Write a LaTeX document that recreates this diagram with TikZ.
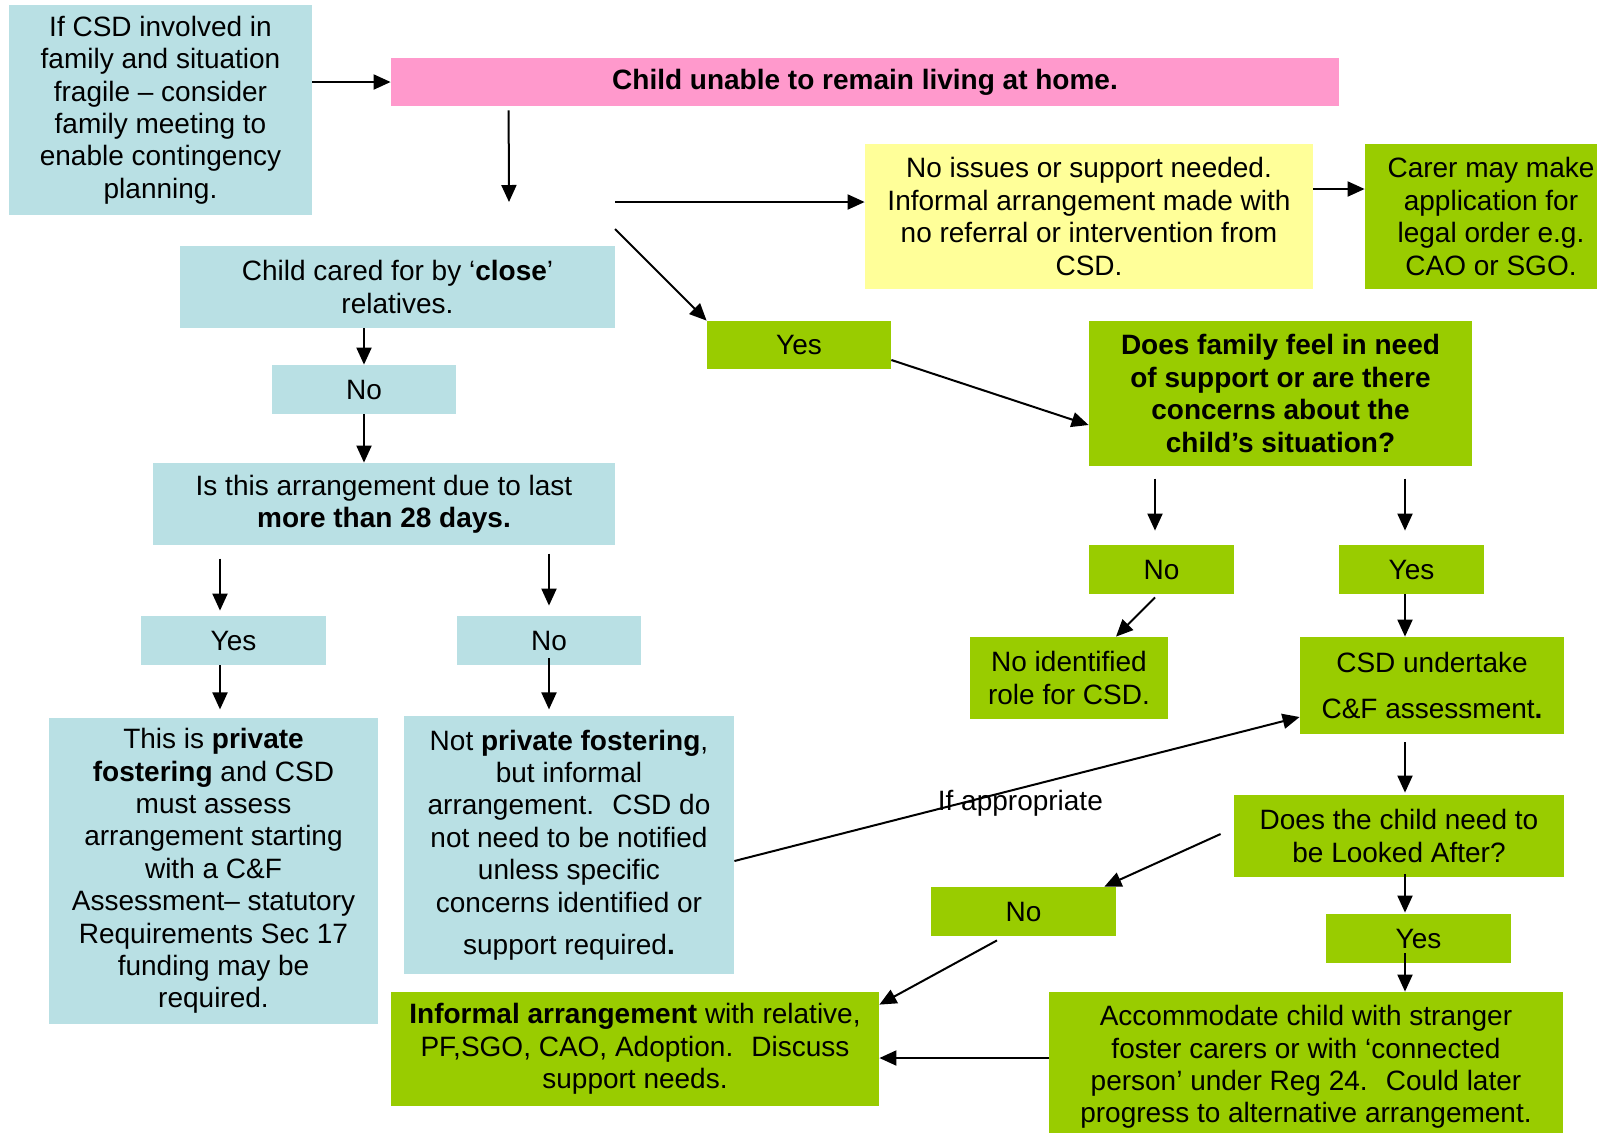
\documentclass[tikz,border=0pt]{standalone}
\usepackage{fontspec}
\setmainfont{Liberation Sans}
\usetikzlibrary{calc,shapes,arrows,arrows.meta}
\definecolor{csdblue}{HTML}{B9E0E4}
\definecolor{csdgreen}{HTML}{99CC00}
\definecolor{csdpink}{HTML}{FF99CC}
\definecolor{csdyellow}{HTML}{FFFF99}

\begin{document}
\begin{tikzpicture}[x=0.5pt,y=-0.5pt,
    box/.style={inner sep=0pt, align=center, font=\fontsize{14}{16.2}\selectfont},
    bluebox/.style={box, fill=csdblue},
    greenbox/.style={box, fill=csdgreen},
    arr/.style={-{Triangle[length=8.5pt,width=7.5pt]}, line width=1pt}]
        \useasboundingbox (0,0) rectangle (1597,1132);
        \clip (0,0) rectangle (1597,1132);
        % top row
        \node[bluebox, minimum width=151.5pt, minimum height=105pt] (family) at (160.5,110)
            {If CSD involved in\\family and situation\\fragile – consider\\family meeting to\\enable contingency\\planning.};
        \node[box, fill=csdpink, minimum width=474pt, minimum height=24pt] (home) at (865,82)
            {\textbf{Child unable to remain living at home.}};
        \node[box, fill=csdyellow, minimum width=224pt, minimum height=72.5pt] (noissue) at (1089,216.5)
            {No issues or support needed.\\Informal arrangement made with\\no referral or intervention from\\CSD.};
        \node[greenbox, minimum width=126pt, minimum height=72.5pt] (carer) at (1491,216.5)
            {Carer may make\\application for\\legal order e.g.\\CAO or SGO.};
        \coordinate (split) at (509,202);
        \coordinate (fork) at (615,202);
        \coordinate (fork2) at (615,229);
        % left branch
        \node[bluebox, minimum width=217.5pt, minimum height=41pt] (close) at (397.5,287)
            {Child cared for by ‘\textbf{close}’\\relatives.};
        \node[bluebox, minimum width=92pt, minimum height=24.5pt] (noclose) at (364,389.5) {No};
        \node[bluebox, minimum width=231pt, minimum height=41pt] (days) at (384,504)
            {Is this arrangement due to last\\\textbf{more than 28 days.}};
        \node[bluebox, minimum width=92.5pt, minimum height=24.5pt] (yesdays) at (233.5,640.5) {Yes};
        \node[bluebox, minimum width=92pt, minimum height=24.5pt] (nodays) at (549,640.5) {No};
        \node[bluebox, minimum width=164.5pt, minimum height=153pt] (pf) at (213.5,871)
            {This is \textbf{private}\\\textbf{fostering} and CSD\\must assess\\arrangement starting\\with a C\&F\\Assessment– statutory\\Requirements Sec 17\\funding may be\\required.};
        \node[bluebox, minimum width=165pt, minimum height=129pt] (notpf) at (569,845)
            {Not \textbf{private fostering},\\but informal\\arrangement.~ CSD do\\not need to be notified\\unless specific\\concerns identified or\\[5pt]support required\textbf{.}};
        % right branch
        \node[greenbox, minimum width=92pt, minimum height=24pt] (yesclose) at (799,345) {Yes};
        \node[greenbox, minimum width=191.5pt, minimum height=72.5pt] (support) at (1280.5,393.5)
            {\textbf{Does family feel in need}\\\textbf{of support or are there}\\\textbf{concerns about the}\\\textbf{child’s situation?}};
        \node[greenbox, minimum width=72.5pt, minimum height=24.5pt] (nosupport) at (1161.5,569.5) {No};
        \node[greenbox, minimum width=72.5pt, minimum height=24.5pt] (yessupport) at (1411.5,569.5) {Yes};
        \node[greenbox, minimum width=99pt, minimum height=41pt] (norole) at (1069,678)
            {No identified\\role for CSD.};
        \node[greenbox, minimum width=132pt, minimum height=48.5pt] (assess) at (1432,685.5)
            {CSD undertake\\[7pt]C\&F assessment\textbf{.}};
        \node[greenbox, minimum width=165pt, minimum height=41pt] (looked) at (1399,836)
            {Does the child need to\\be Looked After?};
        \node[greenbox, minimum width=92.5pt, minimum height=24.5pt] (nolooked) at (1023.5,911.5) {No};
        \node[greenbox, minimum width=92.5pt, minimum height=24.5pt] (yeslooked) at (1418.5,938.5) {Yes};
        \node[greenbox, minimum width=257pt, minimum height=75pt] (accom) at (1306,1067)
            {Accommodate child with stranger\\foster carers or with ‘connected\\person’ under Reg 24.~ Could later\\progress to alternative arrangement.};
        \node[greenbox, minimum width=244pt, minimum height=57pt] (informal) at (635,1049)
            {\textbf{Informal arrangement} with relative,\\PF,SGO, CAO, Adoption.~ Discuss\\support needs.};
        % connectors
        \draw[arr] (family.east |- home.west) -- (home.west);
        \draw[arr] ($(home.south west)+(118,4)$) -- (split);
        \draw[arr] (fork) -- (fork -| noissue.west);
        \draw[arr] (fork2) -- (yesclose.north west);
        \draw[arr] ([yshift=13.75pt]noissue.east) -- ([yshift=13.75pt]carer.west);
        \draw[arr] ([yshift=-7.5pt]yesclose.east) -- ([yshift=-15.75pt]support.west);
        \draw[arr] (close.south -| noclose.north) -- (noclose.north);
        \draw[arr] (noclose.south) -- (noclose.south |- days.north);
        \draw[arr] ([xshift=-6.75pt,yshift=28.5pt]yesdays.north) -- ++(0,52);
        \draw[arr] ([yshift=31pt]nodays.north) -- ++(0,52);
        \draw[arr] ([xshift=-6.75pt]yesdays.south) -- ++(0,44);
        \draw[arr] ([yshift=3.5pt]nodays.south) -- ++(0,51);
        \draw[arr] ([yshift=-8pt]notpf.east) -- node[box, pos=0.506, yshift=-7.5pt] (ifapp) {If appropriate}
            ([yshift=-15.75pt]assess.west);
        \draw[arr] ([xshift=-3.25pt,yshift=33pt]nosupport.north) -- ++(0,52);
        \draw[arr] ([xshift=-3.25pt,yshift=33pt]yessupport.north) -- ++(0,52);
        \draw[arr] ([xshift=-3.25pt,yshift=-1.5pt]nosupport.south) -- ([xshift=23.5pt]norole.north);
        \draw[arr] ([xshift=-3.25pt]yessupport.south) -- ([xshift=-3.25pt]yessupport.south |- assess.north);
        \draw[arr] ([xshift=-13.5pt,yshift=-4pt]assess.south) -- ([xshift=3pt,yshift=1pt]looked.north);
        \draw[arr] ([xshift=-6.5pt,yshift=1pt]looked.west) -- ([xshift=-6pt]nolooked.north east);
        \draw[arr] ([xshift=3pt,yshift=1.5pt]looked.south) -- ([xshift=-6.75pt,yshift=0.5pt]yeslooked.north);
        \draw[arr] ([xshift=-6.75pt,yshift=5pt]yeslooked.south) -- ([xshift=49.5pt]accom.north);
        \draw[arr] ([yshift=4.5pt]accom.west) -- ([yshift=4.5pt]accom.west -| informal.east);
        \draw[arr] ([xshift=-13.25pt,yshift=-2pt]nolooked.south) -- ([yshift=-6.5pt]informal.north east);
    \end{tikzpicture}
\end{document}
